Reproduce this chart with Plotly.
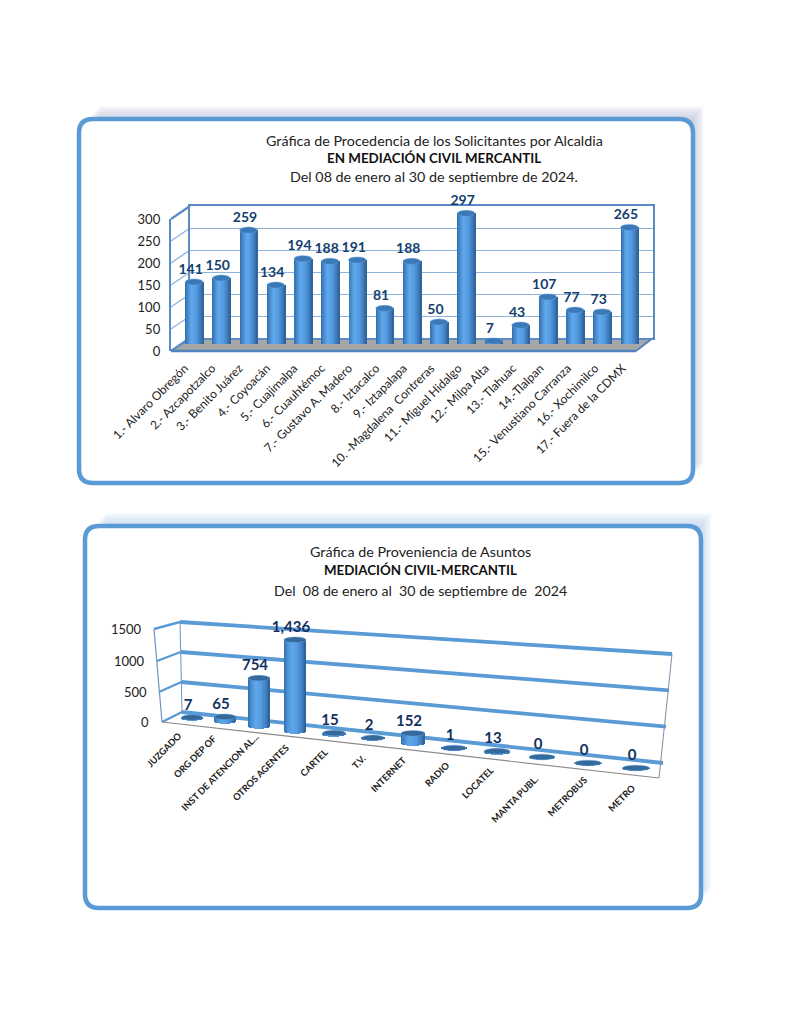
import math
import plotly.graph_objects as go

# ---------- data ----------
alcaldias = ["1.- Alvaro Obregón", "2.- Azcapotzalco", "3.- Benito Juárez", "4.- Coyoacán",
             "5.- Cuajimalpa", "6.- Cuauhtémoc", "7.- Gustavo A. Madero", "8.- Iztacalco",
             "9.- Iztapalapa", "10. -Magdalena  Contreras", "11.- Miguel Hidalgo", "12.- Milpa Alta",
             "13.- Tlahuac", "14.-Tlalpan", "15.- Venustiano Carranza", "16.- Xochimilco",
             "17.- Fuera de la CDMX"]
solicitantes = [141, 150, 259, 134, 194, 188, 191, 81, 188, 50, 297, 7, 43, 107, 77, 73, 265]
ticks_top = [0, 50, 100, 150, 200, 250, 300]

asuntos = ["JUZGADO", "ORG DEP OF", "INST DE ATENCION AL...", "OTROS AGENTES", "CARTEL", "T.V.",
           "INTERNET", "RADIO", "LOCATEL", "MANTA PUBL.", "METROBUS", "METRO"]
asuntos_val = [7, 65, 754, 1436, 15, 2, 152, 1, 13, 0, 0, 0]
asuntos_txt = ["7", "65", "754", "1,436", "15", "2", "152", "1", "13", "0", "0", "0"]
ticks_bot = [0, 500, 1000, 1500]

# ---------- layout geometry (page pixels) ----------
W, H = 791, 1024
FONT = "Lato"
BLUE = "#5B9BD5"
px = lambda x: x / W
py = lambda y: 1 - y / H
# perspective placement of the lower chart
pos2 = [192, 225, 259, 295, 334, 373, 413, 454, 497, 542, 588, 636]
base2 = [718, 721, 726, 731, 734, 738, 743, 748, 752, 757, 763, 768]
width2 = [21, 21.5, 22, 22, 22.7, 22.7, 24, 24.7, 25.7, 26, 26.7, 27.3]
lab2 = [(187, 727), (221, 730), (263, 729), (294, 739), (333, 744), (371, 749),
        (411, 752), (454, 757), (499, 762), (544, 770), (592, 772), (641, 779)]

grad = [(0.0, (52, 108, 166)), (0.12, (66, 132, 198)), (0.36, (96, 168, 236)),
        (0.65, (82, 152, 222)), (0.88, (60, 120, 182)), (1.0, (44, 94, 148))]


def grad_color(t):
    for (a, ca), (b, cb) in zip(grad, grad[1:]):
        if t <= b:
            f = (t - a) / (b - a)
            return "rgb(%d,%d,%d)" % tuple(round(p + (q - p) * f) for p, q in zip(ca, cb))
    return "rgb(44,94,148)"


fig = go.Figure()
shapes, annots = [], []


def panel(x0, y0, x1, y1, shadow, r=14):
    # soft shadow along top and right, built from stacked translucent rects
    for d in range(13, 0, -2):
        shapes.append(dict(type="rect", xref="paper", yref="paper", layer="below",
                           x0=px(x0 + 8 + d), x1=px(x1 + d * 0.8), y0=py(y0 - d), y1=py(y1 - 6 - d),
                           fillcolor=shadow, line_width=0))
    path = (f"M {px(x0 + r)} {py(y0)} L {px(x1 - r)} {py(y0)} Q {px(x1)} {py(y0)} {px(x1)} {py(y0 + r)} "
            f"L {px(x1)} {py(y1 - r)} Q {px(x1)} {py(y1)} {px(x1 - r)} {py(y1)} "
            f"L {px(x0 + r)} {py(y1)} Q {px(x0)} {py(y1)} {px(x0)} {py(y1 - r)} "
            f"L {px(x0)} {py(y0 + r)} Q {px(x0)} {py(y0)} {px(x0 + r)} {py(y0)} Z")
    shapes.append(dict(type="path", xref="paper", yref="paper", layer="below", path=path,
                       fillcolor="white", line=dict(color=BLUE, width=4.5)))


def seg(x0, y0, x1, y1, col, w):
    shapes.append(dict(type="line", xref="paper", yref="paper", layer="below",
                       x0=px(x0), y0=py(y0), x1=px(x1), y1=py(y1), line=dict(color=col, width=w)))


def text(x, y, s, size=14, bold=False, color="#222222", **kw):
    annots.append(dict(xref="paper", yref="paper", x=px(x), y=py(y), showarrow=False,
                       text=f"<b>{s}</b>" if bold else s,
                       font=dict(family=FONT, size=size, color=color),
                       xanchor=kw.get("xanchor", "center"), yanchor="middle"))


def cylinders(xa, ya, xs, values, bases, widths, h_units, top_col, n=18):
    for k in range(n):
        t0, t1 = k / n, (k + 1) / n
        um = (t0 + t1) - 1
        d = h_units * math.sqrt(max(0, 1 - um * um))
        fig.add_trace(go.Bar(
            x=xs, y=[v + d for v in values], base=[b - d for b in bases],
            width=[w / n * 1.2 for w in widths],
            offset=[w * (t0 - 0.5) for w in widths],
            marker=dict(color=grad_color((t0 + t1) / 2), line_width=0),
            xaxis=xa, yaxis=ya, cliponaxis=False, showlegend=False, hoverinfo="skip"))
    for x, v, b, w in zip(xs, values, bases, widths):
        shapes.append(dict(type="circle", xref=xa, yref=ya, layer="above",
                           x0=x - w / 2, x1=x + w / 2, y0=b + v - h_units, y1=b + v + h_units,
                           fillcolor=top_col, line=dict(color="rgba(100,160,225,0.8)", width=0.6)))


panel(79, 119, 693, 483, "rgba(165,180,205,0.10)")
panel(85, 526, 701, 908, "rgba(165,198,235,0.10)")

# ---------- upper chart ----------
n1 = len(alcaldias)
idx = list(range(n1))
sc1 = 132 / 300
# floor and side wall
shapes.append(dict(type="path", xref="paper", yref="paper", layer="below",
                   path=f"M {px(171)} {py(351)} L {px(190)} {py(338)} L {px(653)} {py(338)} L {px(636)} {py(351)} Z",
                   fillcolor="#A6A6A6", line_width=0))
for t in ticks_top:
    seg(171, 351 - t * sc1, 190, 338 - t * sc1, "#5B8AC6" if t in (0, 300) else "#8FB4DC", 2.2 if t in (0, 300) else 1.4)
seg(171, 351, 636, 351, "#4F81BD", 2.4)
seg(636, 351, 653, 338, "#4F81BD", 1.6)

# back wall
fig.add_trace(go.Scatter(x=[0], y=[0], mode="none", xaxis="x", yaxis="y", showlegend=False, hoverinfo="skip"))
# front axis
fig.add_trace(go.Scatter(x=idx, y=solicitantes, mode="none", xaxis="x2", yaxis="y2", showlegend=False, hoverinfo="skip"))
# cylinders
cylinders("x3", "y3", idx, solicitantes, [0] * n1, [0.65] * n1, 3 / sc1, "#3A78B6")
fig.add_trace(go.Scatter(x=[i - 0.13 for i in idx], y=[v + 27 for v in solicitantes],
                         text=[str(v) for v in solicitantes], mode="text", textposition="middle center",
                         textfont=dict(family=FONT, size=14, color="#14406F"),
                         texttemplate="<b>%{text}</b>",
                         xaxis="x3", yaxis="y3", cliponaxis=False, showlegend=False, hoverinfo="skip"))

text(434, 140, "Gráfica de Procedencia de los Solicitantes por Alcaldia", 14.3)
text(434, 158, "EN MEDIACIÓN CIVIL MERCANTIL", 13.4, True, "#111111")
text(434, 176, "Del 08 de enero al 30 de septiembre de 2024.", 14.3)

# ---------- lower chart ----------
sc2 = 0.0635
zero2 = 731
bases2 = [(zero2 - b) / sc2 for b in base2]
for t, (xl_f, yl_f) in zip(ticks_bot, [(162, 722), (159, 692), (157, 661), (154, 629)]):
    xb = 182 - t / 1500 * 2
    yb = 712 - t / 1500 * 90
    xr = 663 + t / 1500 * 9
    yr = 763 - t / 1500 * 109
    seg(xl_f, yl_f, xb, yb, "#5B9BD5", 2.4)
    seg(xb, yb, xr, yr, "#5B9BD5", 3.8)
    text(xl_f - 10 if t else 151, yl_f, f"{t}", 13, xanchor="right")
seg(154, 629, 162, 722, "#6E93C8", 1.2)
seg(180, 622, 182, 712, "#6E93C8", 1.0)
seg(672, 654, 659, 778, "#7F8FA8", 1.0)
seg(162, 722, 659, 778, "#8C8C8C", 1.2)

fig.add_trace(go.Scatter(x=pos2, y=asuntos_val, mode="none", xaxis="x4", yaxis="y4", showlegend=False, hoverinfo="skip"))
cylinders("x4", "y4", pos2, asuntos_val, bases2, width2, 2.8 / sc2, "#34699A")
fig.add_trace(go.Scatter(x=[p - 4 for p in pos2], y=[b + v + 11.5 / sc2 for b, v in zip(bases2, asuntos_val)],
                         text=asuntos_txt, mode="text", textposition="middle center",
                         textfont=dict(family=FONT, size=15, color="#14305F"),
                         texttemplate="<b>%{text}</b>",
                         xaxis="x4", yaxis="y4", cliponaxis=False, showlegend=False, hoverinfo="skip"))
for name, (lx, ly) in zip(asuntos, lab2):
    annots.append(dict(xref="paper", yref="paper", x=px(lx), y=py(ly), showarrow=False,
                       text=f"<b>{name}</b>", textangle=-45, xanchor="right", yanchor="top",
                       font=dict(family=FONT, size=9.3, color="#222222")))

text(420, 551, "Gráfica de Proveniencia de Asuntos", 14.3)
text(420, 570, "MEDIACIÓN CIVIL-MERCANTIL", 13.3, True, "#111111")
text(420, 590, "Del  08 de enero al  30 de septiembre de  2024", 14.2)


def xdom(a, b):
    return [a / W, b / W]


def ydom(top, bottom):
    return [1 - bottom / H, 1 - top / H]


hidden = dict(visible=False)
fig.update_layout(
    template="none",
    width=W, height=H, margin=dict(l=0, r=0, t=0, b=0), autosize=False,
    paper_bgcolor="white", plot_bgcolor="rgba(0,0,0,0)", barmode="overlay", bargap=0,
    shapes=shapes, annotations=annots, showlegend=False, font=dict(family=FONT),
    xaxis=dict(domain=xdom(190, 653), range=[0, 1], showgrid=False, zeroline=False, showticklabels=False,
               ticks="", showline=True, linecolor="#5B8AC6", linewidth=2, mirror=True, anchor="y", automargin=False),
    yaxis=dict(domain=ydom(206, 338), range=[0, 300], tickvals=ticks_top, showticklabels=False, ticks="",
               showgrid=True, gridcolor="#8FB4DC", gridwidth=1.4, zeroline=False, showline=True,
               linecolor="#5B8AC6", linewidth=2, mirror=True, anchor="x", automargin=False),
    xaxis2=dict(domain=xdom(171, 636), range=[-0.5, 16.5], tickmode="array", tickvals=idx, ticktext=alcaldias,
                tickangle=-45, tickfont=dict(family=FONT, size=12, color="#222222"), showgrid=False,
                ticklabelstandoff=7, zeroline=False, ticks="", anchor="y2", automargin=False),
    yaxis2=dict(domain=ydom(219, 351), range=[0, 300], tickmode="array", tickvals=ticks_top,
                tickfont=dict(family=FONT, size=13, color="#222222"), showgrid=False, zeroline=False,
                ticklabelstandoff=6, showline=True, linecolor="#5B8AC6", linewidth=2.4, ticks="", anchor="x2",
                automargin=False),
    xaxis3=dict(domain=xdom(180.5, 643), range=[-0.5, 16.5], **hidden, anchor="y3"),
    yaxis3=dict(domain=ydom(180, 344), range=[0, (344 - 180) / sc1], **hidden, anchor="x3"),
    xaxis4=dict(domain=xdom(100, 700), range=[100, 700], **hidden, anchor="y4"),
    yaxis4=dict(domain=ydom(600, 800), range=[(zero2 - 800) / sc2, (zero2 - 600) / sc2], **hidden, anchor="x4"),
)

fig.write_html("out.html", config=dict(displayModeBar=False),
               post_script="document.body.style.margin='0';document.body.style.overflow='hidden';")
